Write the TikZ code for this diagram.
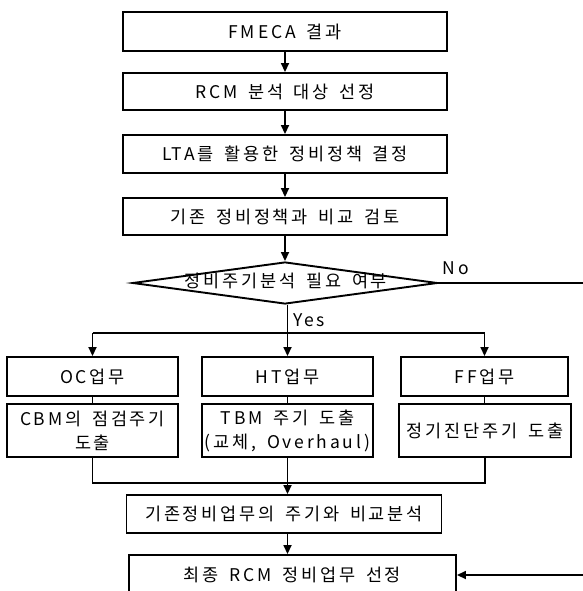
\documentclass[tikz,border=0pt]{standalone}
\usepackage{fontspec}
\setmainfont{Noto Sans CJK KR}[LetterSpace=16, WordSpace=1.6]
\usetikzlibrary{shapes.geometric,arrows.meta}
\begin{document}
\begin{tikzpicture}[x=1pt,y=-1pt,
  box/.style={draw, line width=1.9pt, inner sep=0pt, font=\fontsize{17.5}{24}\selectfont, align=center},
  link/.style={line width=1.7pt},
  arr/.style={link, -{Triangle[length=9pt,width=8pt]}},
  lbl/.style={font=\fontsize{17.5}{20}\selectfont, inner sep=0pt}]
\useasboundingbox (0,0) rectangle (582,591);
% main column
\node[box, minimum width=324pt, minimum height=39pt] (b1) at (285,31.5) {FMECA 결과};
\node[box, minimum width=324pt, minimum height=37pt] (b2) at (285,91.5) {RCM 분석 대상 선정};
\node[box, minimum width=324pt, minimum height=38pt] (b3) at (285,154) {LTA를 활용한 정비정책 결정};
\node[box, minimum width=324pt, minimum height=37pt] (b4) at (285,216.5) {기존 정비정책과 비교 검토};
\node[diamond, draw, line width=1.9pt, inner sep=0pt, minimum width=305pt, minimum height=42pt] (d) at (285,283) {};
\node[lbl] (dt) at (286,281) {정비주기분석 필요 여부};
\node[lbl] (no) at (456,268) {No};
\node[lbl] (yes) at (309,320) {Yes};
% branches
\node[box, minimum width=171pt, minimum height=39pt] (oc) at (92.5,376.5) {OC업무};
\node[box, minimum width=171pt, minimum height=39pt] (ht) at (287.5,376.5) {HT업무};
\node[box, minimum width=167pt, minimum height=39pt] (ff) at (484.5,376.5) {FF업무};
\node[box, minimum width=171pt, minimum height=53pt] (cbm) at (92.5,430.5) {CBM의 점검주기\\도출};
\node[box, minimum width=171pt, minimum height=53pt] (tbm) at (287.5,430.5) {TBM 주기 도출\\(교체, Overhaul)};
\node[box, minimum width=172pt, minimum height=53pt] (jg) at (485,430.5) {정기진단주기 도출};
% lower column
\node[box, minimum width=315pt, minimum height=38pt] (gz) at (284,514) {기존정비업무의 주기와 비교분석};
\node[box, minimum width=327pt, minimum height=40pt] (fin) at (292.5,575) {최종 RCM 정비업무 선정};
\coordinate (br) at (0,333);
\coordinate (mg) at (0,483);
\coordinate (nr) at (583.5,283);
\coordinate (nb) at (583.5,575);
% connectors
\draw[arr] (b1) -- (b2);
\draw[arr] (b2) -- (b3);
\draw[arr] (b3) -- (b4);
\draw[arr] (b4.south) -- (d.north);
\draw[arr] (ht.north |- d.south) -- (ht.north);
\draw[link] (oc.north |- br) -- (ff.north |- br);
\draw[arr] (oc.north |- br) -- (oc.north);
\draw[arr] (ff.north |- br) -- (ff.north);
\draw[link] (oc) -- (cbm);
\draw[link] (ht) -- (tbm);
\draw[link] (ff.south) -- (ff.south |- jg.north);
\draw[link] (cbm.south) -- (cbm.south |- mg) -- (jg.south |- mg) -- (jg.south);
\draw[arr] (tbm.south) -- (tbm.south |- gz.north);
\draw[arr] (tbm.south |- gz.south) -- (tbm.south |- fin.north);
\draw[arr] (d.east) -- (nr) -- (nb) -- (fin.east);
\end{tikzpicture}
\end{document}
